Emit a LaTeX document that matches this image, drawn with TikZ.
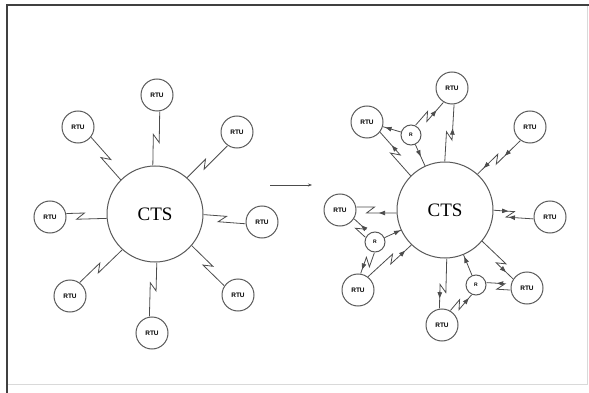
\documentclass[tikz,border=0pt]{standalone}
\usepackage{fontspec}
\setmainfont{Liberation Serif}
\setsansfont{Liberation Sans}
\usetikzlibrary{calc,arrows.meta,decorations.markings}

% zigzag radio link from #2 to #3, zig at pos #4
\newcommand{\radiolink}[4][]{%
  \path (#2) -- (#3) coordinate[pos=0] (ls) coordinate[pos=#4] (lm) coordinate[pos=1] (le);
  \coordinate (lp) at ($(lm)!4pt!(le)$);
  \coordinate (lq) at ($(lm)!4pt!(ls)$);
  \draw[link,#1] ($(ls)!3pt!90:(le)$) -- ($(lp)!3pt!90:(le)$) -- ($(lq)!3pt!-90:(le)$) -- ($(le)!3pt!90:(ls)$);
}

\begin{document}
\begin{tikzpicture}[x=1pt,y=-1pt,
  >={Triangle[length=6pt,width=4.5pt]},
  link/.style={draw=black!70,line width=0.8pt},
  hub/.style={circle,draw=black!65,line width=1pt,minimum size=96pt,inner sep=0pt,font=\fontsize{19}{19}\selectfont},
  rtu/.style={circle,draw=black!65,line width=1pt,minimum size=32pt,inner sep=0pt,font=\sffamily\bfseries\fontsize{6.5}{6.5}\selectfont},
  rep/.style={circle,draw=black!65,line width=1pt,minimum size=20pt,inner sep=0pt,font=\sffamily\bfseries\fontsize{5}{5}\selectfont},
  fwd/.style={postaction={decorate,decoration={markings,mark=at position #1 with {\arrow{>}}}}},
  bwd/.style={postaction={decorate,decoration={markings,mark=at position #1 with {\arrowreversed{>}}}}}]
\useasboundingbox (0,0) rectangle (589,393);
% frame
\draw[black!15,line width=1pt] (587,5) -- (587,384) -- (7,384);
\draw[black!75,line width=1.6pt] (7,393) -- (7,5) -- (589,5);

% before
\node[hub] (cts1) at (155,214) {CTS};
\node[rtu] (ra1) at (157,95) {RTU};
\node[rtu] (ra2) at (237,132) {RTU};
\node[rtu] (ra3) at (262,222) {RTU};
\node[rtu] (ra4) at (238,295) {RTU};
\node[rtu] (ra5) at (152,333) {RTU};
\node[rtu] (ra6) at (70,296) {RTU};
\node[rtu] (ra7) at (50,217) {RTU};
\node[rtu] (ra8) at (78,127) {RTU};
\radiolink{ra1}{cts1}{0.5}
\radiolink{ra2}{cts1}{0.57}
\radiolink{cts1}{ra3}{0.45}
\radiolink{cts1}{ra4}{0.5}
\radiolink{cts1}{ra5}{0.45}
\radiolink{cts1}{ra6}{0.55}
\radiolink{ra7}{cts1}{0.35}
\radiolink{ra8}{cts1}{0.5}

\coordinate (arrs) at (270,185);
\coordinate (arre) at (312,185);
\draw[link,-{Stealth[length=4pt,width=3pt]}] (arrs) -- (arre);

% after, with repeaters
\node[hub] (cts2) at (445,210) {CTS};
\node[rtu] (rb1) at (452,88) {RTU};
\node[rtu] (rb2) at (530,127) {RTU};
\node[rtu] (rb3) at (550,217) {RTU};
\node[rtu] (rb4) at (527,288) {RTU};
\node[rtu] (rb5) at (442,325) {RTU};
\node[rtu] (rb6) at (358,290) {RTU};
\node[rtu] (rb7) at (340,210) {RTU};
\node[rtu] (rb8) at (367,122) {RTU};
\node[rep] (rep1) at (411,135) {R};
\node[rep] (rep2) at (375,242) {R};
\node[rep] (rep3) at (476,285) {R};

\radiolink[fwd=0.68]{cts2}{rb1}{0.45}
\draw[link,bwd=0.45] (cts2) -- (rep1);
\draw[link,fwd=0.85] (rep1) -- (rb8);
\radiolink[fwd=0.8]{rep1}{rb1}{0.4}
\radiolink[fwd=0.75]{cts2}{rb8}{0.5}
\radiolink[fwd=0.3,fwd=0.88]{rb2}{cts2}{0.55}
\radiolink[fwd=0.42,bwd=0.75]{rb3}{cts2}{0.58}
\radiolink[fwd=0.85]{cts2}{rb4}{0.6}
\radiolink[fwd=0.75]{rb4}{rep3}{0.4}
\draw[link,fwd=0.9] (rep3) -- (cts2);
\radiolink[fwd=0.85]{cts2}{rb5}{0.6}
\radiolink[fwd=0.9]{rb5}{rep3}{0.4}
\radiolink[bwd=0.7]{rb7}{cts2}{0.35}
\radiolink[bwd=0.25]{rb7}{rep2}{0.55}
\draw[link,fwd=0.95] (rep2) -- (cts2);
\radiolink[fwd=0.9]{rep2}{rb6}{0.45}
\radiolink[fwd=0.88]{rb6}{cts2}{0.55}
\end{tikzpicture}
\end{document}
